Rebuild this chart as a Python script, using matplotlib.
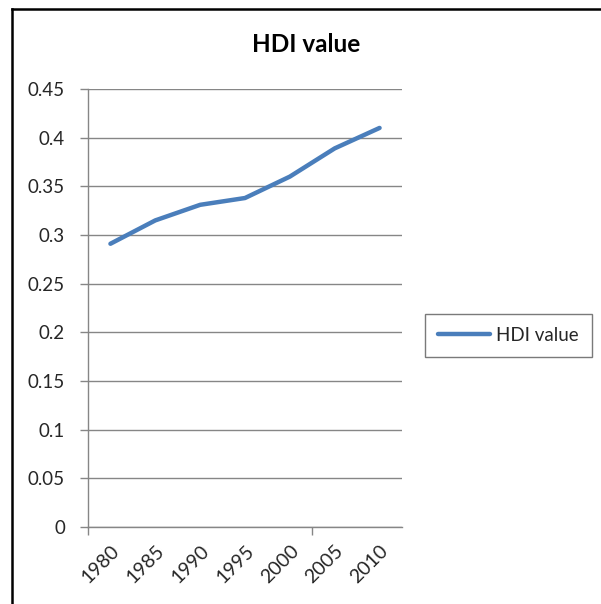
import numpy as np
import matplotlib
matplotlib.use("Agg")
from matplotlib import pyplot as plt
from matplotlib.lines import Line2D

plt.rcParams['font.family'] = ['Lato', 'DejaVu Sans']

# data
years = ["1980", "1985", "1990", "1995", "2000", "2005", "2010"]
hdi = [0.291, 0.315, 0.331, 0.338, 0.360, 0.389, 0.410]
yticks = [0, 0.05, 0.1, 0.15, 0.2, 0.25, 0.3, 0.35, 0.4, 0.45]
ylabels = ["0", "0.05", "0.1", "0.15", "0.2", "0.25", "0.3", "0.35", "0.4", "0.45"]

grey = "#868686"
blue = "#4A7EBB"

fig = plt.figure(figsize=(6.01, 6.04), dpi=100)
ax = fig.add_axes([88 / 601, 1 - 527 / 604, (402 - 88) / 601, (527 - 89) / 604])

x = np.arange(len(years))
ax.plot(x, hdi, color=blue, lw=3.2, solid_capstyle="round", solid_joinstyle="round", label="HDI value")

ax.set_xlim(-0.5, len(years) - 0.5)
ax.set_ylim(0, 0.45)

# y axis
ax.set_yticks(yticks)
ax.set_yticklabels(ylabels)
ax.yaxis.grid(True, color=grey, lw=1)
ax.set_axisbelow(True)
ax.tick_params(axis="y", length=6, width=1, color=grey, labelsize=13.5, labelcolor="#262626", pad=10.5)

# x axis: labels at categories, tick marks every 5 categories
ax.set_xticks(x)
ax.set_xticklabels(years, rotation=45, ha="right", va="top", rotation_mode="anchor")
ax.tick_params(axis="x", which="major", length=0, labelsize=14, labelcolor="#262626", pad=11)
ax.set_xticks([-0.5, 4.5], minor=True)
ax.tick_params(axis="x", which="minor", length=6, width=1, color=grey)

for s in ["top", "right"]:
    ax.spines[s].set_visible(False)
for s in ["left", "bottom"]:
    ax.spines[s].set_color(grey)
    ax.spines[s].set_linewidth(1)

# title
fig.text(306 / 601, 1 - 45 / 604, "HDI value", ha="center", va="center",
         fontsize=17.5, fontweight="bold", color="#000000")

# legend
leg = fig.legend(loc="center", bbox_to_anchor=(508 / 601, 1 - 335.5 / 604),
                 fontsize=13.5, frameon=True, fancybox=False, handlelength=2.8,
                 handletextpad=0.3, borderpad=0.7, borderaxespad=0)
leg.get_frame().set_edgecolor("#595959")
leg.get_frame().set_linewidth(1)
for t in leg.get_texts():
    t.set_color("#262626")

# chart border (top and left visible)
fig.add_artist(Line2D([12 / 601, 1], [1 - 8.5 / 604, 1 - 8.5 / 604], color="black", lw=1.8,
                      transform=fig.transFigure))
fig.add_artist(Line2D([12 / 601, 12 / 601], [0, 1 - 8.5 / 604], color="black", lw=1.8,
                      transform=fig.transFigure))

fig.savefig("out.png", dpi=100)
